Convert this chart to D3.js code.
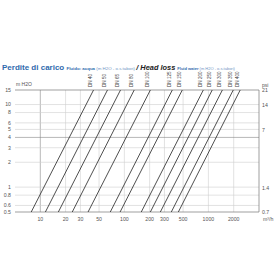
<!DOCTYPE html>
<html>
<head>
<meta charset="utf-8">
<script src="https://cdn.jsdelivr.net/npm/d3@7"></script>
<style>
  body { margin: 0; background: #fff; }
  svg { display: block; font-family: "Liberation Sans", Arial, sans-serif; }
</style>
</head>
<body>
<script>
// head loss chart (log-log), one line per pipe size

var dnLabels = ["DN 40", "DN 50", "DN 65", "DN 80", "DN 100", "DN 125", "DN 150", "DN 200", "DN 250", "DN 300", "DN 350", "DN 400"];
// flow (m3/h) where each line meets 0.5 m and 15 m H2O
var qLow  = [7.8, 11.5, 16.4, 24, 37, 68, 89, 159, 204, 268, 362, 439];
var qHigh = [43, 63, 90, 131, 204, 372, 489, 870, 1110, 1466, 1975, 2390];

var xTicks = [10, 20, 30, 50, 100, 200, 300, 500, 1000, 2000];
var yTicks = [15, 10, 8, 6, 5, 4, 3, 2, 1, 0.8, 0.6, 0.5];
var psiTicks = [21, 14, 7, 1.4, 0.7];

(function(){

var psiToM = 0.703;
var width = 280, height = 280;
var pLeft = 15, pRight = 259, pTop = 90, pBottom = 212;

var svg = d3.select("body").append("svg")
    .attr("width", width)
    .attr("height", height);

var x = d3.scaleLog().domain([5, 4000]).range([pLeft, pRight]);
var y = d3.scaleLog().domain([0.5, 15]).range([pBottom, pTop]);

//gridlines
svg.append("g").selectAll("line")
    .data(xTicks)
    .enter().append("line")
    .attr("x1", function(d){ return x(d); })
    .attr("x2", function(d){ return x(d); })
    .attr("y1", pTop)
    .attr("y2", pBottom)
    .attr("stroke", function(d){ return d == 10 ? "#888" : "#cfcfcf"; })
    .attr("stroke-width", 0.6);

svg.append("g").selectAll("line")
    .data(yTicks.filter(function(d){ return d < 15 && d > 0.5; }))
    .enter().append("line")
    .attr("x1", pLeft)
    .attr("x2", pRight)
    .attr("y1", function(d){ return y(d); })
    .attr("y2", function(d){ return y(d); })
    .attr("stroke", function(d){ return d == 4 ? "#888" : "#cfcfcf"; })
    .attr("stroke-width", 0.6);

//frame (top, right, bottom)
svg.append("path")
    .attr("d", "M" + pLeft + "," + pTop + "H" + pRight + "V" + pBottom + "H" + pLeft)
    .attr("fill", "none")
    .attr("stroke", "#777")
    .attr("stroke-width", 0.7);

//head loss lines
var lineData = dnLabels.map(function(dn, i){
    return { dn: dn, pts: [[qLow[i], 0.5], [qHigh[i], 15]] };
});

var line = d3.line()
    .x(function(d){ return x(d[0]); })
    .y(function(d){ return y(d[1]); });

svg.append("g").selectAll("path")
    .data(lineData)
    .enter().append("path")
    .attr("d", function(d){ return line(d.pts); })
    .attr("fill", "none")
    .attr("stroke", "#222")
    .attr("stroke-width", 0.8);

//DN labels rotated above the plot
svg.append("g").selectAll("text")
    .data(lineData)
    .enter().append("text")
    .attr("transform", function(d){
        return "translate(" + (x(d.pts[1][0]) - 1.5) + "," + (pTop - 3) + ") rotate(-90)";
    })
    .attr("font-size", 4.6)
    .attr("fill", "#444")
    .text(function(d){ return d.dn; });

//y axis labels (m H2O)
svg.append("g").selectAll("text")
    .data(yTicks)
    .enter().append("text")
    .attr("x", 11)
    .attr("y", function(d){ return y(d) + 1.8; })
    .attr("text-anchor", "end")
    .attr("font-size", 5.2)
    .attr("fill", "#555")
    .text(function(d){ return d; });

svg.append("text")
    .attr("x", 16).attr("y", 86)
    .attr("font-size", 5)
    .attr("fill", "#555")
    .text("m H2O");

//right axis (psi)
svg.append("g").selectAll("text")
    .data(psiTicks)
    .enter().append("text")
    .attr("x", 262)
    .attr("y", function(d){ return Math.min(y(d * psiToM), pBottom) + 1.8; })
    .attr("font-size", 5.2)
    .attr("fill", "#555")
    .text(function(d){ return d; });

svg.append("text")
    .attr("x", 262).attr("y", 87)
    .attr("font-size", 5)
    .attr("fill", "#555")
    .text("psi");

//x axis labels
svg.append("g").selectAll("text")
    .data(xTicks)
    .enter().append("text")
    .attr("x", function(d){ return x(d); })
    .attr("y", 221)
    .attr("text-anchor", "middle")
    .attr("font-size", 5.2)
    .attr("fill", "#555")
    .text(function(d){ return d; });

svg.append("text")
    .attr("x", 263).attr("y", 221)
    .attr("font-size", 5.2)
    .attr("fill", "#555")
    .text("m³/h");

//title
var title = svg.append("text")
    .attr("x", 2).attr("y", 70);
title.append("tspan")
    .attr("font-size", 8).attr("font-weight", "bold").attr("fill", "#2f6aad")
    .text("Perdite di carico ");
title.append("tspan")
    .attr("font-size", 4.4).attr("font-weight", "bold").attr("fill", "#2f6aad")
    .text("Fluido: acqua ");
title.append("tspan")
    .attr("font-size", 4.4).attr("fill", "#6f95c4")
    .text("(m H2O - o.s.tabori) ");
title.append("tspan")
    .attr("font-size", 7.4).attr("font-weight", "bold").attr("font-style", "italic").attr("fill", "#222")
    .text("/ Head loss ");
title.append("tspan")
    .attr("font-size", 4).attr("font-weight", "bold").attr("fill", "#2f6aad")
    .text("Fluid water ");
title.append("tspan")
    .attr("font-size", 4).attr("fill", "#6f95c4")
    .text("(m H2O - o.s.tabori)");

})();
</script>
</body>
</html>
